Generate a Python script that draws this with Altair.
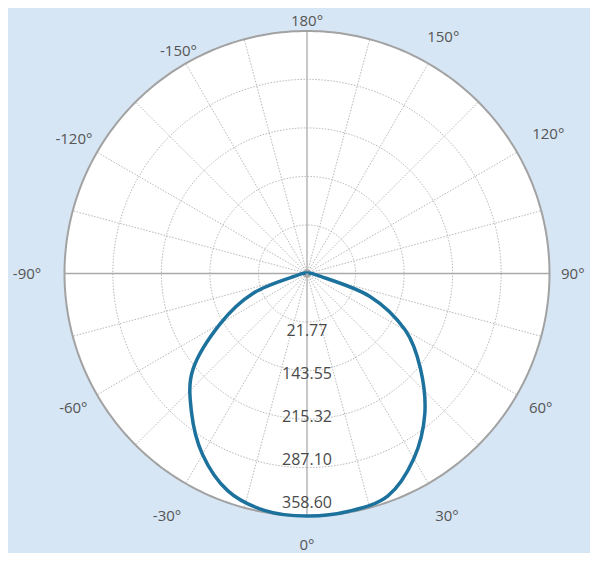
import altair as alt
import numpy as np
import pandas as pd

# ---- data ----
angle_labels = [-150, -120, -90, -60, -30, 0, 30, 60, 90, 120, 150, 180]
angle_label_radius = [380, 398, 414, 399, 414, 401, 414, 399, 393, 412, 403, 374]
ring_values = [71.77, 143.55, 215.32, 287.10, 358.60]
ring_texts = ["21.77", "143.55", "215.32", "287.10", "358.60"]
ring_label_pos = [85, 149, 212, 276, 339]
curve_angles = [-90, -80, -70, -60, -50, -40, -30, -20, -10, 0,
                10, 20, 30, 40, 50, 60, 70, 80, 90]
curve_values = [0, 14, 84, 148, 220, 266, 309, 342, 356, 358.6,
                357, 350, 316, 271, 219, 168, 99, 16, 0]
spoke_step = 15

# ---- layout ----
W, H = 582, 545
cx, cy = 299, 265.5
R = ring_values[-1]
k = 242.5 / R
xs = alt.Scale(domain=[-cx / k, (W - cx) / k], nice=False, zero=False)
ys = alt.Scale(domain=[-(H - cy) / k, cy / k], nice=False, zero=False)


def pol(r, deg):
    t = np.radians(deg)
    return r * np.sin(t), -r * np.cos(t)


def enc(**kw):
    return dict(x=alt.X("x:Q", scale=xs, axis=None),
                y=alt.Y("y:Q", scale=ys, axis=None), **kw)


# white disk
xx = np.linspace(-R, R, 721)
disk = pd.DataFrame({"x": xx, "y": np.sqrt(np.clip(R**2 - xx**2, 0, None)),
                     "y2": -np.sqrt(np.clip(R**2 - xx**2, 0, None))})
disk_layer = alt.Chart(disk).mark_area(color="white", opacity=1).encode(
    x=alt.X("x:Q", scale=xs, axis=None),
    y=alt.Y("y:Q", scale=ys, axis=None),
    y2="y2:Q")

# rings
rows = []
for j, rv in enumerate(ring_values):
    for i, a in enumerate(np.arange(0, 361, 1)):
        x, y = pol(rv, a)
        rows.append({"ring": j, "i": i, "x": x, "y": y})
rings = pd.DataFrame(rows)
inner_rings = alt.Chart(rings[rings.ring < len(ring_values) - 1]).mark_line(
    stroke="#b8b8b8", strokeWidth=1, strokeDash=[1.5, 1.5]).encode(
    **enc(detail="ring:N", order="i:Q"))
rim = alt.Chart(rings[rings.ring == len(ring_values) - 1]).mark_line(
    stroke="#a2a2a2", strokeWidth=2).encode(**enc(order="i:Q"))

# spokes
sp = []
for a in range(0, 360, spoke_step):
    x2, y2 = pol(R, a)
    sp.append({"a": a, "x": 0.0, "y": 0.0, "x2": x2, "y2": y2,
               "main": a % 90 == 0})
spokes = pd.DataFrame(sp)
spoke_layer = alt.Chart(spokes[~spokes.main]).mark_rule(
    stroke="#b8b8b8", strokeWidth=1, strokeDash=[1.5, 1.5]).encode(
    **enc(x2="x2:Q", y2="y2:Q"))
main_layer = alt.Chart(spokes[spokes.main]).mark_rule(
    stroke="#aaaaaa", strokeWidth=1.3).encode(**enc(x2="x2:Q", y2="y2:Q"))

center = alt.Chart(pd.DataFrame({"x": [0.0], "y": [0.0]})).mark_point(
    filled=True, color="#a8a8a8", size=70, opacity=1).encode(**enc())

# curve
cxs, cys = pol(np.array(curve_values), np.array(curve_angles))
curve = pd.DataFrame({"i": range(len(curve_angles)), "angle": curve_angles,
                      "value": curve_values, "x": cxs, "y": cys})
curve_layer = alt.Chart(curve).mark_line(
    stroke="#1c729d", strokeWidth=3.5, strokeJoin="round",
    interpolate="cardinal").encode(**enc(order="i:Q"))

# radial labels
rl = pd.DataFrame({"text": ring_texts, "x": 0.0,
                   "y": [-p for p in ring_label_pos]})
ring_text_layer = alt.Chart(rl).mark_text(
    font="Open Sans", fontSize=16, color="#4a4a4a", align="center",
    baseline="middle").encode(**enc(text="text:N"))

# angle labels
lx, ly = pol(np.array(angle_label_radius), np.array(angle_labels))
al = pd.DataFrame({"text": [f"{a}°" for a in angle_labels], "x": lx, "y": ly})
angle_text_layer = alt.Chart(al).mark_text(
    font="Open Sans", fontSize=15, color="#555555", align="center",
    baseline="middle").encode(**enc(text="text:N"))

chart = alt.layer(disk_layer, inner_rings, spoke_layer, main_layer, rim,
                  center, curve_layer, ring_text_layer, angle_text_layer
                  ).properties(width=W, height=H, autosize="none", padding=0,
                               background="#d7e6f4"
                  ).configure_view(stroke=None)

chart.save("out.html", embed_options={"renderer": "svg", "actions": False})
